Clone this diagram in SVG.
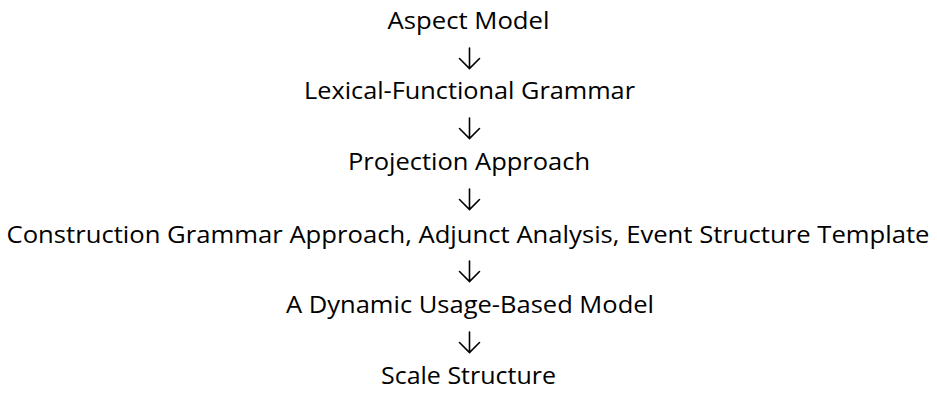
<svg xmlns="http://www.w3.org/2000/svg" width="937" height="393" viewBox="0 0 937 393">
<style>
text{font-family:"Open Sans","Noto Sans","Liberation Sans",sans-serif;font-size:24px;fill:#000;text-anchor:middle}
.arr{fill:none;stroke:#000;stroke-width:1.6;stroke-linecap:round;stroke-linejoin:miter}
</style>
<rect width="937" height="393" fill="#fff"/>
<g id="n1"><text x="468.5" y="29" textLength="162" lengthAdjust="spacingAndGlyphs">Aspect Model</text></g>
<g id="n2"><text x="469.5" y="99" textLength="331" lengthAdjust="spacingAndGlyphs">Lexical-Functional Grammar</text></g>
<g id="n3"><text x="469" y="170" textLength="242" lengthAdjust="spacingAndGlyphs">Projection Approach</text></g>
<g id="n4"><text x="468" y="243" textLength="923" lengthAdjust="spacingAndGlyphs">Construction Grammar Approach, Adjunct Analysis, Event Structure Template</text></g>
<g id="n5"><text x="470" y="313" textLength="368" lengthAdjust="spacingAndGlyphs">A Dynamic Usage-Based Model</text></g>
<g id="n6"><text x="468.5" y="384" textLength="175" lengthAdjust="spacingAndGlyphs">Scale Structure</text></g>
<g id="connectors" class="arr">
<path d="M469.5 48V68.5M459.5 58.5L469.5 68.5L479.5 58.5"/>
<path d="M469.5 118V138.5M459.5 128.5L469.5 138.5L479.5 128.5"/>
<path d="M469.5 189V209.5M459.5 199.5L469.5 209.5L479.5 199.5"/>
<path d="M469.5 261V281.5M459.5 271.5L469.5 281.5L479.5 271.5"/>
<path d="M469.5 332V352.5M459.5 342.5L469.5 352.5L479.5 342.5"/>
</g>
</svg>
